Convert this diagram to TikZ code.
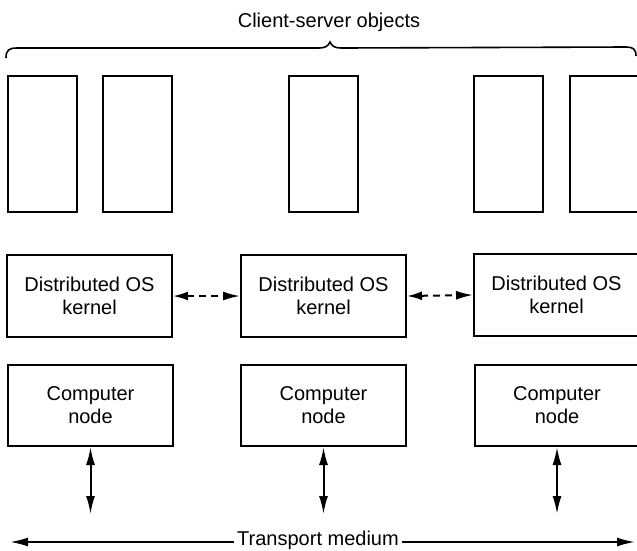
\documentclass[tikz,border=0pt]{standalone}
\usepackage{fontspec}
\setmainfont{Liberation Sans}
\usetikzlibrary{arrows.meta}
\begin{document}
\begin{tikzpicture}[x=1pt,y=-1pt,
  every node/.style={font=\fontsize{20}{23}\selectfont},
  objbox/.style={draw,line width=2pt,minimum width=69pt,minimum height=136pt,inner sep=0pt},
  layerbox/.style={draw,line width=2pt,minimum width=165pt,minimum height=82pt,align=center,inner sep=0pt},
  tip/.style={-{Latex[length=18pt,width=9pt]}},
  dtip/.style={{Latex[length=15pt,width=9pt]}-{Latex[length=17pt,width=9pt]}},
  vtip/.style={{Latex[length=18pt,width=9pt]}-{Latex[length=18pt,width=9pt]}},
  link/.style={line width=2pt},
]
\useasboundingbox (0,0) rectangle (637,550);
\clip (0,0) rectangle (637,550);
% title and brace
\node (title) at (329,22) {Client-server objects};
\draw[line width=1.6pt] (6,58) .. controls (6,50) and (9,48) .. (17,48)
  -- (318,48) .. controls (326,48) and (328,46) .. (330,42)
  .. controls (332,46) and (334,48) .. (342,48)
  -- (626,47) .. controls (633,47) and (636,49) .. (636,56);
% objects
\node[objbox] (o1) at (42,144) {};
\node[objbox] (o2) at (137.5,144) {};
\node[objbox] (o3) at (323.5,144) {};
\node[objbox] (o4) at (508.5,143.5) {};
\node[objbox] (o5) at (604.5,143.5) {};
% kernels
\node[layerbox] (k1) at (89.5,296) {Distributed OS\\kernel};
\node[layerbox] (k2) at (323.5,296) {Distributed OS\\kernel};
\node[layerbox] (k3) at (556.5,295) {Distributed OS\\kernel};
% computers
\node[layerbox,minimum height=81pt] (c1) at (90.5,405.5) {Computer\\node};
\node[layerbox,minimum height=81pt] (c2) at (323.5,405.5) {Computer\\node};
\node[layerbox,minimum height=81pt] (c3) at (557,405.5) {Computer\\node};
% dashed kernel links
\draw[link,dtip,dash pattern=on 7pt off 5pt] (k1.east) -- (k2.west);
\draw[link,dtip,dash pattern=on 7pt off 5pt] (k2.east) -- (k3.west);
% transport medium
\node[inner sep=3pt] (tm) at (318,540) {Transport medium};
\coordinate (tl) at (10,542);
\coordinate (tr) at (635,542);
\draw[link,tip] (tm.west |- tl) -- (tl);
\draw[link,tip] (tm.east |- tr) -- (tr);
% vertical links
\coordinate (b1) at (c1.south |- 0,514);
\coordinate (b2) at (c2.south |- 0,514);
\coordinate (b3) at (c3.south |- 0,514);
\draw[link,vtip] (c1.south) -- (b1);
\draw[link,vtip] (c2.south) -- (b2);
\draw[link,vtip] (c3.south) -- (b3);
\end{tikzpicture}
\end{document}
